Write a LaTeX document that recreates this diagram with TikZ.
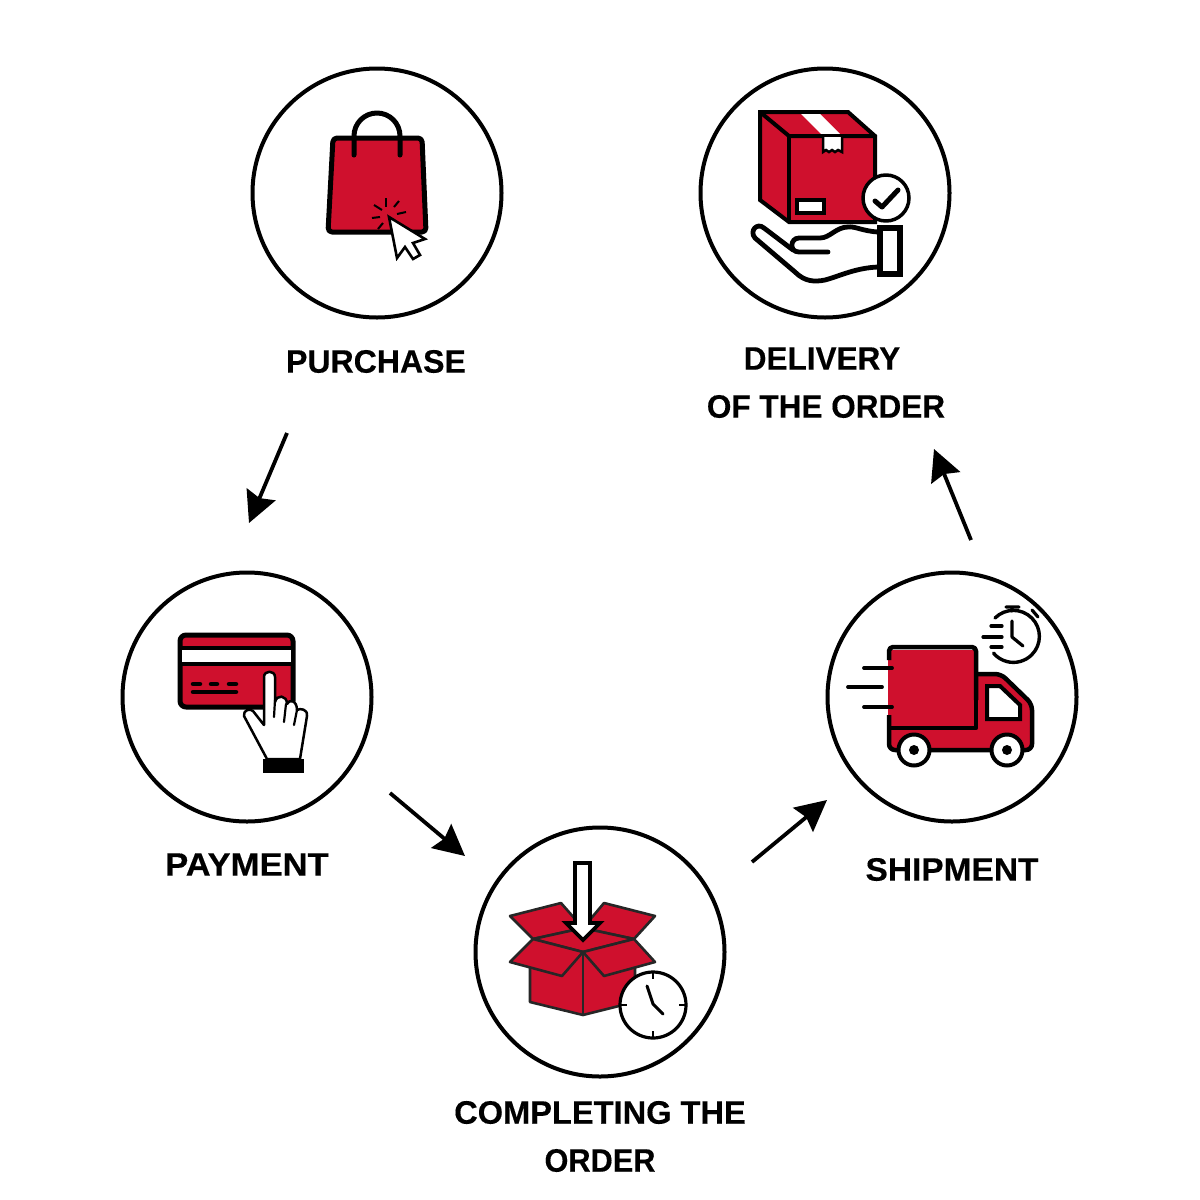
\documentclass[tikz,border=0pt]{standalone}
\usepackage{fontspec}
\usepackage{graphicx}
\setmainfont{Liberation Sans}[BoldFeatures={FakeBold=0.3}]
\usetikzlibrary{arrows.meta}
\definecolor{brandred}{HTML}{CF102D}
\tikzset{
 ring/.style={circle,draw=black,line width=4pt,fill=white,minimum size=249pt,inner sep=0pt},
 lab/.style={font=\fontsize{32.5}{36}\selectfont\bfseries,text=black,inner sep=0pt,anchor=center},
 flow/.style={line width=3.8pt,-{Stealth[length=31pt,width=31pt,inset=4pt]}},
 ink/.style={draw=black,line join=round,line cap=round},
 redink/.style={ink,fill=brandred},
 whiteink/.style={ink,fill=white},
 boxline/.style={draw=black!85,fill=brandred,line width=2.6pt,line join=round},
}
\begin{document}
\begin{tikzpicture}[x=1pt,y=-1pt]
\useasboundingbox (0,0) rectangle (1200,1200);
\fill[white] (0,0) rectangle (1200,1200);
% rings
\node[ring] (purchase) at (377,193) {};
\node[ring] (delivery) at (825,193) {};
\node[ring] (payment) at (247,697) {};
\node[ring] (completing) at (600,952) {};
\node[ring] (shipment) at (952,697) {};
% labels
\node[lab] (l1) at (376,361.5) {\scalebox{0.986}[1]{PURCHASE}};
\node[lab] (l2) at (822,358.5) {\scalebox{0.97}[1]{DELIVERY}};
\node[lab] (l3) at (826,406.5) {\scalebox{0.97}[1]{OF THE ORDER}};
\node[lab] (l4) at (247,864.5) {\scalebox{1.066}[1]{PAYMENT}};
\node[lab] (l5) at (952,869.5) {\scalebox{1.03}[1]{SHIPMENT}};
\node[lab] (l6) at (600,1112.5) {\scalebox{1.003}[1]{COMPLETING THE}};
\node[lab] (l7) at (600,1160.5) {\scalebox{0.945}[1]{ORDER}};
% connectors
\coordinate (a1s) at (287,433); \coordinate (a1e) at (249,523);
\coordinate (a2s) at (390,793); \coordinate (a2e) at (465,856);
\coordinate (a3s) at (752,862); \coordinate (a3e) at (827,800);
\coordinate (a4s) at (971,540); \coordinate (a4e) at (934,449);
\draw[flow] (a1s) -- (a1e);
\draw[flow] (a2s) -- (a2e);
\draw[flow] (a3s) -- (a3e);
\draw[flow] (a4s) -- (a4e);
% ===== bag
\draw[redink,line width=5pt,rounded corners=4pt] (333,138) -- (422,138) -- (426,232) -- (328,232) -- cycle;
\draw[ink,line width=5pt] (354,155) -- (354,136) arc[start angle=180,end angle=360,radius=23] -- (400,155);
\draw[whiteink,line width=2.6pt,line join=miter] (389,217) -- (425,239) -- (413,243) -- (420,255) -- (413,259) -- (405,247) -- (397,258) -- cycle;
\foreach \a/\b/\c/\d in {386/198/386/207,399/201/394/207,406/212/397/214,374/205/382/210,372/218/380/217,383/223/378/229}
  \draw[ink,line width=2pt,line cap=butt] (\a,\b) -- (\c,\d);
% ===== parcel
\draw[redink,line width=4pt,line join=miter] (760,112) -- (848,112) -- (875,136) -- (875,222) -- (789,222) -- (760,200) -- cycle;
\fill[white] (801,114) -- (820,114) -- (842,136) -- (823,136) -- cycle;
\draw[ink,line width=4pt,line join=miter] (760,112) -- (789,136) -- (875,136);
\draw[ink,line width=4pt,line cap=butt] (789,136) -- (789,222);
\draw[ink,fill=white,line width=2.5pt,line join=miter] (823,137) -- (823,152) -- (826,150) -- (829,152) -- (832,150) -- (835,152) -- (838,150) -- (842,152) -- (842,137);
\draw[ink,fill=white,line width=3.5pt,line join=miter] (797,200) rectangle (824,213);
\draw[whiteink,line width=3.5pt] (886,198) circle[radius=23];
\draw[ink,line width=5pt] (875,201) -- (882,207) -- (898,190);
\draw[ink,line width=4.8pt,fill=none] (878,232) .. controls (862,231) and (855,226) .. (848,227) .. controls (836,227) and (830,238) .. (820,238) -- (799,238) .. controls (790,238) and (789,252) .. (799,252) -- (828,252);
\draw[ink,line width=4.8pt,fill=none] (793,250) -- (764,228) .. controls (757,222) and (749,231) .. (755,238) -- (795,272) .. controls (805,282) and (815,282) .. (825,280) .. controls (840,276) and (855,268) .. (878,267);
\draw[whiteink,line width=5.5pt,line join=miter] (880,228) rectangle (900,274);
% ===== card
\draw[redink,line width=5pt,rounded corners=6pt] (180,635) rectangle (293,707);
\fill[white] (182,648) rectangle (291,664);
\draw[ink,line width=4pt,line cap=butt] (180,648) -- (293,648) (180,664) -- (293,664);
\foreach \a/\b in {193/200,211/217,229/236}
  \draw[ink,line width=4.5pt] (\a,684) -- (\b,684);
\draw[ink,line width=4.5pt] (193,692) -- (236,692);
\draw[whiteink,line width=2.5pt] (267,759) -- (244,716) .. controls (243,710) and (250,708) .. (253,711) -- (264,725) -- (264,677) .. controls (264,670) and (275,670) .. (275,677) -- (275,702) .. controls (277,694) and (287,695) .. (287,704) .. controls (289,699) and (297,700) .. (297,710) .. controls (300,708) and (308,709) .. (307,716) -- (300,759) -- cycle;
\draw[ink,line width=2.2pt] (275,700) -- (274,717) (286,704) -- (284,722) (297,710) -- (294,725);
\fill[black] (263,759) rectangle (304,773);
% ===== open box
\draw[boxline] (530,945) -- (530,1002) -- (583,1015) -- (635,1002) -- (635,945) -- cycle;
\draw[boxline] (533,939) -- (510,916) -- (561,903) -- (583,928) -- cycle;
\draw[boxline] (634,939) -- (655,916) -- (604,903) -- (583,928) -- cycle;
\draw[boxline] (533,939) -- (583,928) -- (634,939) -- (583,952) -- cycle;
\draw[boxline] (533,939) -- (510,962) -- (562,976) -- (583,952) -- cycle;
\draw[boxline] (634,939) -- (655,962) -- (604,976) -- (583,952) -- cycle;
\draw[draw=black!85,line width=2.6pt] (583,952) -- (583,1015);
\draw[ink,fill=white,line width=3.8pt,line join=miter,line cap=butt] (575,863) -- (590,863) -- (590,923) -- (600,923) -- (583,940) -- (566,923) -- (575,923) -- cycle;
\draw[whiteink,line width=3.2pt] (653,1005) circle[radius=33];
\draw[ink,line width=2.6pt,line cap=butt] (653,972) -- (653,979) (653,1038) -- (653,1031) (620,1005) -- (627,1005) (686,1005) -- (679,1005);
\draw[ink,line width=3pt] (647,986) -- (653,1004) -- (663,1014);
% ===== truck
\fill[brandred,rounded corners=5pt] (976,674) -- (1000,674) -- (1030,702) -- (1032,750) -- (888,750) -- (888,700) -- cycle;
\fill[brandred] (888,650) rectangle (974,728);
\draw[ink,line width=4.5pt,line cap=butt,rounded corners=6pt] (976,674) -- (1001,674) -- (1032,704) -- (1032,750) -- (1020,750) (1000,750) -- (925,750) (900,750) -- (889,750) -- (889,715);
\draw[ink,line width=4.5pt,rounded corners=4pt,line cap=butt] (889,660) -- (889,647) -- (976,647) -- (976,700);
\draw[ink,line width=4.5pt,line cap=butt] (976,700) -- (976,728) -- (889,728) -- (889,715);
\draw[ink,fill=white,line width=4pt,line join=miter] (987,686) -- (1000,686) -- (1020,705) -- (1020,719) -- (987,719) -- cycle;
\draw[whiteink,line width=4pt] (914,750) circle[radius=15.5] (1007,750) circle[radius=15.5];
\fill[black] (914,750) circle[radius=5] (1007,750) circle[radius=5];
\draw[ink,line width=3.8pt] (864,668) -- (892,668) (864,707) -- (892,707) (848,687) -- (882,687);
\draw[ink,line width=3.4pt,fill=none] (995,618) arc[start angle=-135,end angle=140,radius=26];
\draw[ink,line width=3.2pt] (1012,621) -- (1012,637) -- (1023,646);
\draw[ink,line width=3.2pt] (1006,607) -- (1019,607) (1012,607) -- (1012,611) (1032,610) -- (1038,617);
\draw[ink,line width=3.2pt] (991,626) -- (1002,626) (983,637) -- (1002,637) (991,647) -- (1002,647);
\end{tikzpicture}
\end{document}
